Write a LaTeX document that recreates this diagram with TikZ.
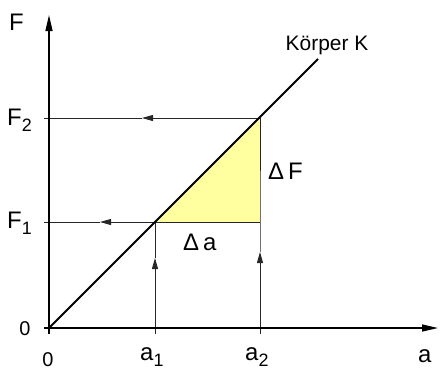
\documentclass[tikz,border=0pt]{standalone}
\usepackage{fontspec}
\setmainfont{Liberation Sans}
\usetikzlibrary{arrows.meta}
\definecolor{paleyellow}{RGB}{255,255,160}
\newcommand\idx[1]{\raisebox{-6bp}{\fontsize{18}{18}\selectfont #1}}
\tikzset{
  axis/.style={line width=1.3bp,-{Triangle[length=16bp,width=7bp]}},
  guide/.style={line width=0.8bp,black!85},
  tip/.style={-{Triangle[length=11bp,width=6bp]}},
  lbl/.style={font=\fontsize{24}{28}\selectfont,inner sep=0pt},
  zero/.style={font=\fontsize{20}{23}\selectfont,inner sep=0pt}
}
\begin{document}
\begin{tikzpicture}[x=1bp,y=-1bp]
\useasboundingbox (0,0) rectangle (440,371);

% points of the force/deformation plot, pixel grid with y downwards
\coordinate (O) at (49,328);
\coordinate (ybot) at (49,334);
\coordinate (ytop) at (49,15);
\coordinate (xleft) at (44,328);
\coordinate (xright) at (438,328);
\coordinate (P1) at (155,222);
\coordinate (P2) at (260,118);
\coordinate (C) at (260,222);
\coordinate (Kend) at (318,59);

% deformation steps up to the body line
\coordinate (a1foot) at (155,334);
\coordinate (a1mid) at (155,258);
\coordinate (a2foot) at (260,334);
\coordinate (a2mid) at (260,252);
% force read-off to the left
\coordinate (F1end) at (44,222);
\coordinate (F1mid) at (100,222);
\coordinate (F2end) at (44,118);
\coordinate (F2mid) at (142,118);

\fill[paleyellow] (P1) -- (P2) -- (C) -- cycle;

\draw[guide,tip] (a1foot) -- (a1mid);
\draw[guide] (a1mid) -- (P1);
\draw[guide,tip] (a2foot) -- (a2mid);
\draw[guide] (a2mid) -- (C) -- (P2);
\draw[guide,tip] (P1) -- (F1mid);
\draw[guide] (F1mid) -- (F1end);
\draw[guide] (P1) -- (C);
\draw[guide,tip] (P2) -- (F2mid);
\draw[guide] (F2mid) -- (F2end);

\draw[axis] (ybot) -- (ytop);
\draw[axis] (xleft) -- (xright);
\draw[line width=1.8bp] (O) -- (Kend);

\node[lbl,anchor=base west] (Flab) at (9,30) {F};
\node[lbl,anchor=base west] (F2lab) at (7,125) {F\idx{2}};
\node[lbl,anchor=base west] (F1lab) at (7,228) {F\idx{1}};
\node[zero] (zeroF) at (25,329) {0};
\node[zero] (zeroa) at (48,360) {0};
\node[lbl,anchor=base west] (a1lab) at (140,360) {a\idx{1}};
\node[lbl,anchor=base west] (a2lab) at (245,360) {a\idx{2}};
\node[lbl,anchor=base west] (alab) at (418,362) {a};
\node[lbl,anchor=base] (Klab) at (327,50) {\fontsize{21}{24}\selectfont Körper K};
\node[lbl,anchor=west] (dF) at (268,171) {Δ\,F};
\node[lbl,anchor=west] (da) at (183,242) {Δ\,a};
\end{tikzpicture}
\end{document}
